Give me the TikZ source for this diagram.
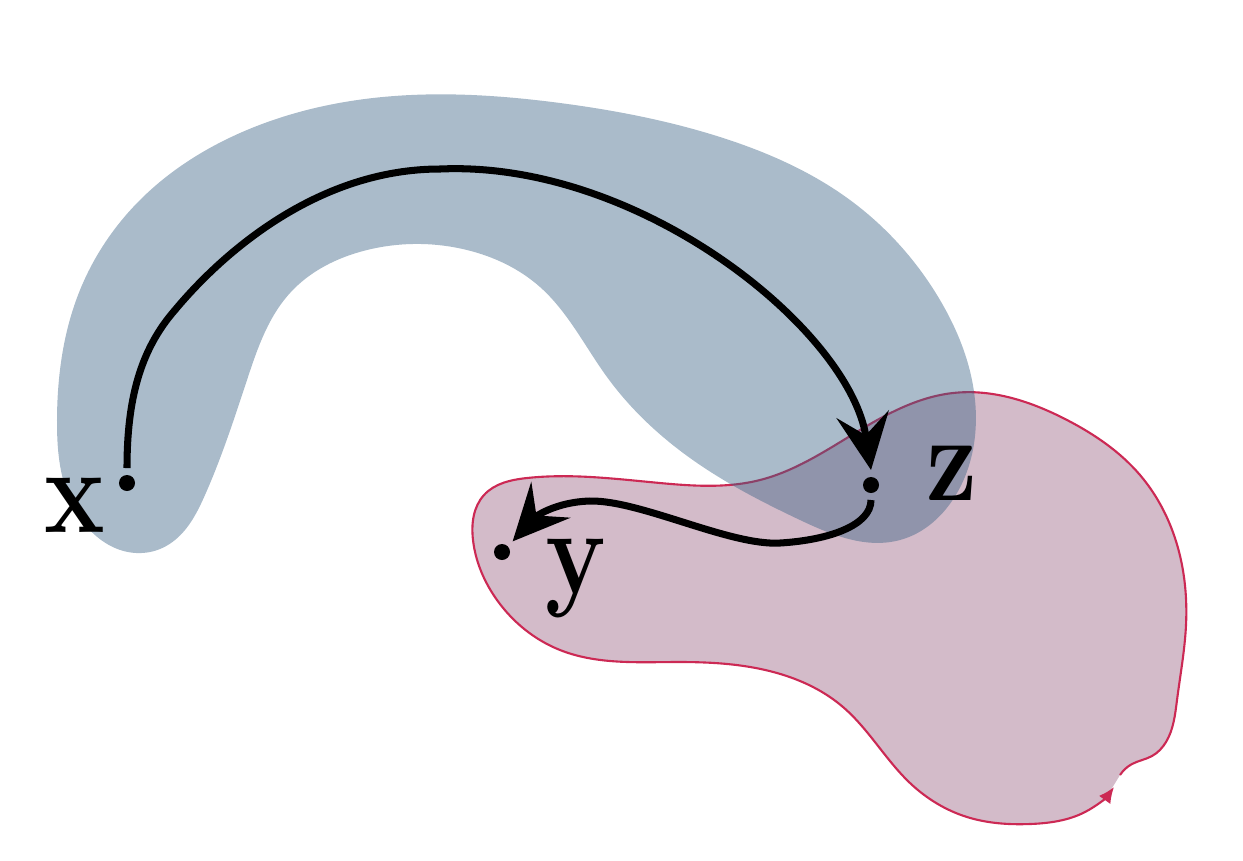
\documentclass[tikz,border=0pt]{standalone}
\usepackage{graphicx}
\usetikzlibrary{arrows.meta, hobby}
\definecolor{bandblue}{RGB}{57,97,132}
\definecolor{regionpink}{RGB}{211,187,201}
\definecolor{regionred}{RGB}{204,41,84}

\begin{document}
\begin{tikzpicture}[
    x=0.01cm, y=-0.01cm,
    >={Stealth[length=16pt, width=15pt, inset=6pt]},
    pt/.style={circle, fill=black, inner sep=0pt, minimum size=0.16cm, outer sep=0.07cm},
    flow/.style={->, line width=2pt},
    lbl/.style={anchor=base, inner sep=0pt, font=\fontsize{29}{32}\selectfont\bfseries},
]
    \useasboundingbox (0,0) rectangle (1243,860);

    % pink region, drawn as an open loop with a small arrow
    \draw[use Hobby shortcut, regionred, line width=0.6pt, fill=regionpink, -{Latex[length=4.5pt, width=4pt]}]
        (1120,775) .. (1132,764) .. (1152,756) .. (1166,742) .. (1177,700) .. (1186,625)
        .. (1178,548) .. (1140,475) .. (1067,420) .. (953,393) .. (860,430) .. (760,480)
        .. (660,483) .. (527,478) .. (484,495) .. (473,540) .. (497,600) .. (560,650)
        .. (677,662) .. (777,673) .. (843,707) .. (910,783) .. (967,817) .. (1030,824)
        .. (1085,812) .. (1114,787);

    % blue band
    \fill[use Hobby shortcut, bandblue, opacity=0.43, closed=true]
        (150,552) .. (70,500) .. (57,420) .. (80,290) .. (140,200) .. (240,133) .. (373,98)
        .. (560,103) .. (720,137) .. (850,200) .. (940,300) .. (975,400) .. (957,493)
        .. (900,540) .. (800,520) .. (690,458) .. (607,377) .. (540,287) .. (467,250)
        .. (367,250) .. (290,293) .. (247,380) .. (205,495) .. (175,540);

    % points
    \node[pt] (x) at (127,483) {};
    \node[pt] (z) at (871,485) {};
    \node[pt] (y) at (502,552) {};

    \node[lbl] (xlbl) at (75,532) {\scalebox{1}[1.2]{x}};
    \node[lbl] (zlbl) at (952,500) {\scalebox{1}[1.2]{z}};
    \node[lbl] (ylbl) at (576,593) {\scalebox{1}[1.2]{y}};

    % paths
    \draw[flow] (x.north) .. controls (127,400) and (140,350) .. (175,310)
        .. controls (225,250) and (320,169) .. (440,169)
        .. controls (640,160) and (850,330) .. (z.north);
    \draw[flow] (z.south) .. controls (871,525) and (830,540) .. (780,543)
        .. controls (730,546) and (640,500) .. (590,501)
        .. controls (555,502) and (535,517) .. (y.north east);
\end{tikzpicture}
\end{document}
